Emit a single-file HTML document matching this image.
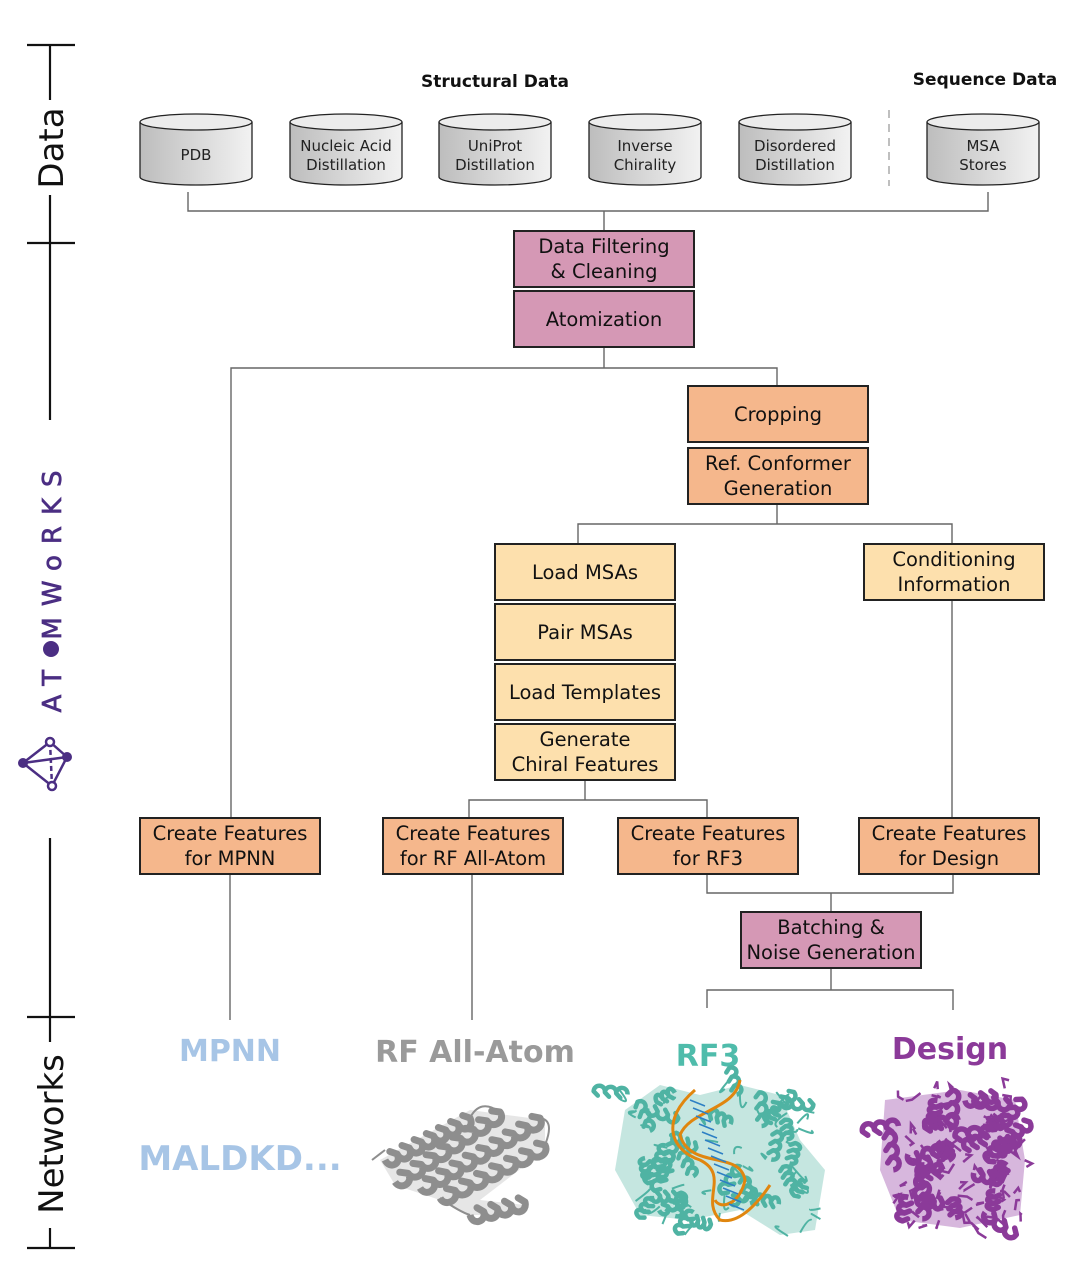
<!DOCTYPE html>
<html><head><meta charset="utf-8"><style>
html,body{margin:0;padding:0;background:#fff;}
svg{display:block;}
text{font-family:"DejaVu Sans","Liberation Sans",sans-serif;}
</style></head><body>
<svg id="s" width="1080" height="1270" viewBox="0 0 1080 1270" xmlns="http://www.w3.org/2000/svg">
<defs>
<linearGradient id="cyl" x1="0" x2="1" y1="0" y2="0">
<stop offset="0" stop-color="#bdbdbd"/><stop offset="1" stop-color="#f2f2f2"/>
</linearGradient>
</defs>
<g stroke="#111" stroke-width="2.2" fill="none">
<line x1="50" y1="45" x2="50" y2="100"/>
<line x1="50" y1="195" x2="50" y2="420"/>
<line x1="27" y1="45" x2="75" y2="45"/>
<line x1="27" y1="243" x2="75" y2="243"/>
<line x1="50" y1="838" x2="50" y2="1042"/>
<line x1="50" y1="1228" x2="50" y2="1248"/>
<line x1="27" y1="1017" x2="75" y2="1017"/>
<line x1="27" y1="1248" x2="75" y2="1248"/>
</g>
<text transform="translate(63,148) rotate(-90)" text-anchor="middle" font-size="34" fill="#111">Data</text>
<text transform="translate(63,1134) rotate(-90)" text-anchor="middle" font-size="34" fill="#111">Networks</text>
<text transform="translate(61,586) rotate(-90)" text-anchor="middle" font-size="26" fill="#4b2e83" letter-spacing="11" stroke="#4b2e83" stroke-width="0.7">AT&#8203; MWoRKS</text>
<circle cx="51" cy="649" r="8" fill="#4b2e83"/>
<g stroke="#4b2e83" stroke-width="2.5" fill="none">
<polygon points="23,763 50,742 67,757 52,786"/>
<line x1="23" y1="763" x2="67" y2="757"/>
<line x1="50" y1="742" x2="52" y2="786" stroke-dasharray="5,3"/>
</g>
<circle cx="23" cy="763" r="5" fill="#4b2e83"/>
<circle cx="67" cy="757" r="5" fill="#4b2e83"/>
<circle cx="50" cy="742" r="4" fill="#fff" stroke="#4b2e83" stroke-width="2.5"/>
<circle cx="52" cy="786" r="4" fill="#fff" stroke="#4b2e83" stroke-width="2.5"/>

<text x="495" y="87" text-anchor="middle" font-size="17" font-weight="bold" fill="#111">Structural Data</text>
<text x="985" y="85" text-anchor="middle" font-size="17" font-weight="bold" fill="#111">Sequence Data</text>
<line x1="889" y1="110" x2="889" y2="186" stroke="#aaa" stroke-width="1.5" stroke-dasharray="8,6"/>

<g id="cyls"></g>

<g stroke="#666" stroke-width="1.4" fill="none">
<polyline points="188,192 188,211 988,211 988,192"/>
<line x1="604" y1="211" x2="604" y2="231"/>
<line x1="604" y1="347" x2="604" y2="368"/>
<polyline points="231,818 231,368 777,368 777,386"/>
<polyline points="777,503 777,524"/>
<polyline points="578,544 578,524 952,524 952,544"/>
<line x1="952" y1="599" x2="952" y2="818"/>
<line x1="585" y1="779" x2="585" y2="800"/>
<polyline points="469,818 469,800 707,800 707,818"/>
<polyline points="707,874 707,893 953,893 953,874"/>
<line x1="831" y1="893" x2="831" y2="912"/>
<line x1="831" y1="968" x2="831" y2="990"/>
<polyline points="707,1008 707,990 953,990 953,1010"/>
<line x1="230" y1="874" x2="230" y2="1020"/>
<line x1="472" y1="874" x2="472" y2="1020"/>
</g>
<g id="boxes"></g>

<text x="230" y="1061" text-anchor="middle" font-size="30" font-weight="bold" fill="#a7c5e6">MPNN</text>
<text x="475" y="1062" text-anchor="middle" font-size="30" font-weight="bold" fill="#9a9a9a">RF All-Atom</text>
<text x="708" y="1066" text-anchor="middle" font-size="30" font-weight="bold" fill="#4fbcab">RF3</text>
<text x="950" y="1059" text-anchor="middle" font-size="30" font-weight="bold" fill="#8b3a99">Design</text>
<text x="240" y="1170" text-anchor="middle" font-size="34" font-weight="bold" fill="#a7c5e6">MALDKD...</text>
<g id="prot"></g>
</svg>
<script>
var NS="http://www.w3.org/2000/svg";
function el(p,t,a,txt){var e=document.createElementNS(NS,t);for(var k in a)e.setAttribute(k,a[k]);if(txt!=null)e.textContent=txt;document.getElementById(p).appendChild(e);return e;}
var cy=[[196,["PDB"]],[346,["Nucleic Acid","Distillation"]],[495,["UniProt","Distillation"]],[645,["Inverse","Chirality"]],[795,["Disordered","Distillation"]],[983,["MSA","Stores"]]];
cy.forEach(function(c){var x=c[0]-56,w=112;
el('cyls','path',{d:"M"+x+",122 L"+x+",177 A56,8 0 0 0 "+(x+w)+",177 L"+(x+w)+",122",fill:"url(#cyl)",stroke:"#222","stroke-width":1.3});
el('cyls','ellipse',{cx:c[0],cy:122,rx:56,ry:8,fill:"#ececec",stroke:"#222","stroke-width":1.3});
var l=c[1];if(l.length==1)el('cyls','text',{x:c[0],y:160,"text-anchor":"middle","font-size":15,fill:"#222"},l[0]);
else{el('cyls','text',{x:c[0],y:151,"text-anchor":"middle","font-size":15,fill:"#222"},l[0]);el('cyls','text',{x:c[0],y:170,"text-anchor":"middle","font-size":15,fill:"#222"},l[1]);}
});
var P="#d598b5",O="#f5b78c",Y="#fde0ad";
var bx=[[514,231,P,["Data Filtering","& Cleaning"]],[514,291,P,["Atomization"]],[688,386,O,["Cropping"]],[688,448,O,["Ref. Conformer","Generation"]],
[495,544,Y,["Load MSAs"]],[495,604,Y,["Pair MSAs"]],[495,664,Y,["Load Templates"]],[495,724,Y,["Generate","Chiral Features"]],[864,544,Y,["Conditioning","Information"]],
[140,818,O,["Create Features","for MPNN"]],[383,818,O,["Create Features","for RF All-Atom"]],[618,818,O,["Create Features","for RF3"]],[859,818,O,["Create Features","for Design"]],[741,912,P,["Batching &","Noise Generation"]]];
bx.forEach(function(b){el('boxes','rect',{x:b[0],y:b[1],width:180,height:56,fill:b[2],stroke:"#222","stroke-width":2});
var cx=b[0]+90,l=b[3];
if(l.length==1)el('boxes','text',{x:cx,y:b[1]+35,"text-anchor":"middle","font-size":19.5,fill:"#111"},l[0]);
else{el('boxes','text',{x:cx,y:b[1]+22,"text-anchor":"middle","font-size":19.5,fill:"#111"},l[0]);el('boxes','text',{x:cx,y:b[1]+47,"text-anchor":"middle","font-size":19.5,fill:"#111"},l[1]);}
});
function helix(x1,y1,x2,y2,col,w,n,amp){amp=amp||9;var d="M"+x1+","+y1,dx=(x2-x1)/n,dy=(y2-y1)/n,L=Math.hypot(dx,dy),px=-dy/L*amp,py=dx/L*amp;
for(var i=0;i<n;i++){var ax=x1+dx*i,ay=y1+dy*i;d+=" C"+(ax+px).toFixed(1)+","+(ay+py).toFixed(1)+" "+(ax+dx+px).toFixed(1)+","+(ay+dy+py).toFixed(1)+" "+(ax+dx).toFixed(1)+","+(ay+dy).toFixed(1);d+=" L"+(ax+dx*0.6-px*0.5).toFixed(1)+","+(ay+dy*0.6-py*0.5).toFixed(1)+" L"+(ax+dx).toFixed(1)+","+(ay+dy).toFixed(1);}
el('prot','path',{d:d,fill:"none",stroke:col,"stroke-width":w,"stroke-linejoin":"round"});}
var G="#8e8e8e";
el('prot','path',{d:"M380,1160 L470,1110 L545,1120 L545,1150 L480,1200 L525,1205 L520,1215 L470,1215 L440,1200 L395,1185 Z",fill:"#b8b8b8",opacity:"0.35"});
helix(385,1160,470,1118,G,7,7,11);helix(395,1182,500,1112,G,7,8,11);helix(420,1188,540,1118,G,7,9,11);helix(440,1198,545,1145,G,7,7,11);helix(470,1215,525,1202,G,7,4,11);
el('prot','path',{d:"M372,1160 L385,1150 M470,1118 Q480,1098 500,1112 M540,1118 Q555,1120 545,1145 M440,1198 Q460,1212 470,1215",fill:"none",stroke:G,"stroke-width":2});
var T="#4fb3a3";
el('prot','path',{d:"M625,1110 L660,1085 L700,1095 L740,1085 L780,1095 L800,1140 L825,1170 L815,1230 L780,1235 L740,1210 L690,1220 L640,1215 L615,1170 Z",fill:"#7fc8bb",opacity:"0.45"});
var r=1;function rnd(){r=(r*9301+49297)%233280;return r/233280;}
for(var i=0;i<34;i++){var x=625+rnd()*190,y=1092+rnd()*130;if(x>680&&x<760&&y<1180&&rnd()<0.6)continue;var a=rnd()*6.28,l=16+rnd()*18;helix(x,y,x+Math.cos(a)*l,y+Math.sin(a)*l,T,4.5,3,8);}
for(var i=0;i<40;i++){var x=620+rnd()*200,y=1085+rnd()*150;el('prot','path',{d:"M"+x+","+y+" q"+(rnd()*30-15)+","+(rnd()*30-15)+" "+(rnd()*30-15)+","+(rnd()*30-15),fill:"none",stroke:T,"stroke-width":2});}
el('prot','path',{d:"M695,1090 C660,1120 670,1150 700,1160 C730,1175 700,1200 720,1220 C740,1225 760,1200 770,1185 M740,1080 C735,1110 690,1110 680,1135 C690,1170 740,1150 745,1180 C740,1205 720,1210 715,1200",fill:"none",stroke:"#e0860f","stroke-width":3});
for(var i=0;i<14;i++){var y=1100+i*8;el('prot','line',{x1:690+i*3,y1:y,x2:705+i*3,y2:y+6,stroke:"#2d7fc4","stroke-width":1.5});}
var M="#8b3a99";
el('prot','path',{d:"M885,1100 L960,1090 L1015,1100 L1025,1160 L1020,1215 L960,1228 L900,1220 L880,1170 Z",fill:"#9c4aab",opacity:"0.4"});
for(var i=0;i<30;i++){var x=888+rnd()*120,y=1095+rnd()*125,a=rnd()*6.28,l=15+rnd()*25;helix(x,y,x+Math.cos(a)*l,y+Math.sin(a)*l,M,5.5,3,9);}
for(var i=0;i<70;i++){var x=880+rnd()*145,y=1085+rnd()*145;el('prot','path',{d:"M"+x+","+y+" l"+(rnd()*20-10)+","+(rnd()*20-10)+" l"+(rnd()*16-8)+","+(rnd()*16-8),fill:"none",stroke:M,"stroke-width":2.5});}
</script>
</body></html>
